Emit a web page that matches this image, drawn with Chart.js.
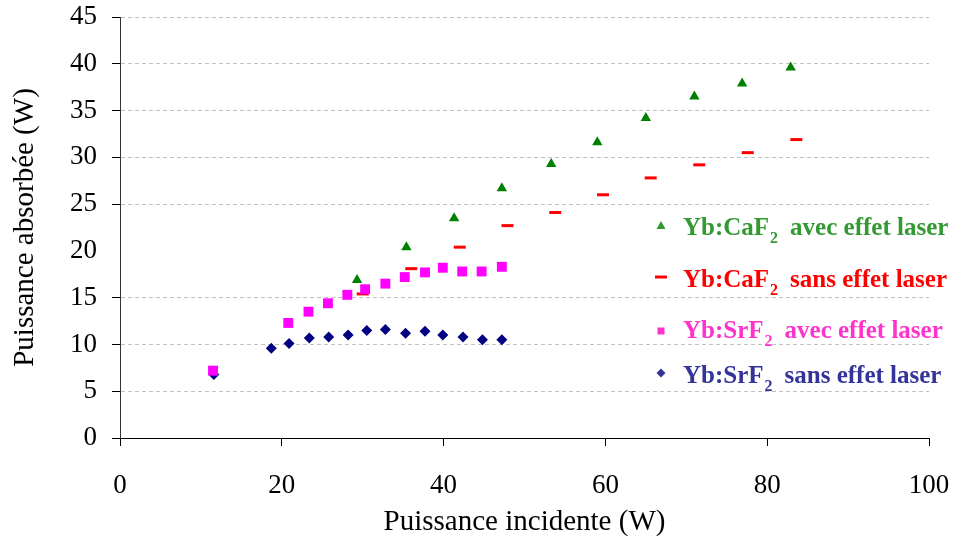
<!DOCTYPE html>
<html>
<head>
<meta charset="utf-8">
<script src="https://cdn.jsdelivr.net/npm/chart.js@4.4.1/dist/chart.umd.min.js"></script>
<style>
  html, body { margin: 0; padding: 0; background: #fff; }
  #wrap { width: 956px; height: 540px; }
</style>
</head>
<body>
<div id="wrap"><canvas id="scatterChart" width="956" height="540"></canvas></div>
<script>
// Yb:CaF2 avec effet laser (triangles)
var caAvecX = [29.3, 35.4, 41.3, 47.2, 53.3, 59.0, 65.0, 71.0, 76.9, 82.9];
var caAvecY = [16.9, 20.4, 23.5, 26.7, 29.3, 31.6, 34.2, 36.5, 37.9, 39.6];
// Yb:CaF2 sans effet laser (dashes)
var caSansX = [30.0, 36.0, 42.0, 47.9, 53.8, 59.7, 65.6, 71.6, 77.6, 83.6];
var caSansY = [15.4, 18.1, 20.4, 22.7, 24.1, 26.0, 27.8, 29.2, 30.5, 31.9];
// Yb:SrF2 avec effet laser (squares)
var srAvecX = [11.5, 20.8, 23.3, 25.7, 28.1, 30.3, 32.8, 35.2, 37.7, 39.9, 42.3, 44.7, 47.2];
var srAvecY = [7.2, 12.3, 13.5, 14.4, 15.3, 15.9, 16.5, 17.2, 17.7, 18.2, 17.8, 17.8, 18.3];
// Yb:SrF2 sans effet laser (diamonds)
var srSansX = [11.6, 18.7, 20.9, 23.4, 25.8, 28.2, 30.5, 32.8, 35.3, 37.7, 39.9, 42.4, 44.8, 47.2];
var srSansY = [6.8, 9.6, 10.1, 10.7, 10.8, 11.0, 11.5, 11.6, 11.2, 11.4, 11.0, 10.8, 10.5, 10.5];

var xTicks = [0, 20, 40, 60, 80, 100];
var yTicks = [0, 5, 10, 15, 20, 25, 30, 35, 40, 45];

var legendCrystal = ['Yb:CaF', 'Yb:CaF', 'Yb:SrF', 'Yb:SrF'];
var legendText = ['avec effet laser', 'sans effet laser', 'avec effet laser', 'sans effet laser'];
var legendColors = ['#339933', '#ff0000', '#ff33cc', '#333399'];
var legendMarks = ['triangle', 'line', 'rect', 'rectRot'];

var serif = '"Liberation Serif", "Times New Roman", serif';

function toPoints(xs, ys) {
    return xs.map(function (x, i) { return { x: x, y: ys[i] }; });
}

// custom legend with subscript "2", drawn inside the plot
var legendPlugin = {
    id: 'subLegend',
    afterDraw: function (chart) {
        var ctx = chart.ctx;
        var rows = [235, 287, 338, 383];
        var markY = [226, 277, 331, 373];
        ctx.save();
        for (var i = 0; i < rows.length; i++) {
            var col = legendColors[i];
            var mx = 661, my = markY[i];
            ctx.fillStyle = col;
            ctx.strokeStyle = col;
            ctx.beginPath();
            if (legendMarks[i] === 'triangle') {
                ctx.moveTo(mx, my - 5); ctx.lineTo(mx + 4.5, my + 3); ctx.lineTo(mx - 4.5, my + 3);
                ctx.closePath(); ctx.fill();
            } else if (legendMarks[i] === 'line') {
                ctx.lineWidth = 3;
                ctx.moveTo(mx - 6, my); ctx.lineTo(mx + 6, my); ctx.stroke();
            } else if (legendMarks[i] === 'rect') {
                ctx.fillRect(mx - 3.5, my - 3.5, 7, 7);
            } else {
                ctx.moveTo(mx, my - 4.5); ctx.lineTo(mx + 4.5, my); ctx.lineTo(mx, my + 4.5); ctx.lineTo(mx - 4.5, my);
                ctx.closePath(); ctx.fill();
            }
            ctx.textBaseline = 'alphabetic';
            ctx.textAlign = 'left';
            ctx.font = 'bold 25px ' + serif;
            var x = 683;
            ctx.fillText(legendCrystal[i], x, rows[i]);
            x += ctx.measureText(legendCrystal[i]).width + 1;
            ctx.font = 'bold 16px ' + serif;
            ctx.fillText('2', x, rows[i] + 8);
            x += ctx.measureText('2').width + 12;
            ctx.font = 'bold 25px ' + serif;
            ctx.fillText(legendText[i], x, rows[i]);
        }
        ctx.restore();
    }
};

window.onload = function () {
    var ctx = document.getElementById('scatterChart').getContext('2d');
    new Chart(ctx, {
        type: 'scatter',
        data: {
            datasets: [{
                label: 'Yb:SrF₂ avec effet laser',
                data: toPoints(srAvecX, srAvecY),
                pointStyle: 'rect',
                pointRadius: 7,
                backgroundColor: '#ff00ff',
                borderColor: '#ff00ff',
                borderWidth: 0
            }, {
                label: 'Yb:CaF₂ avec effet laser',
                data: toPoints(caAvecX, caAvecY),
                pointStyle: 'triangle',
                pointRadius: 6,
                backgroundColor: '#008000',
                borderColor: '#008000',
                borderWidth: 0
            }, {
                label: 'Yb:CaF₂ sans effet laser',
                data: toPoints(caSansX, caSansY),
                pointStyle: 'line',
                pointRadius: 6,
                backgroundColor: '#ff0000',
                borderColor: '#ff0000',
                borderWidth: 3
            }, {
                label: 'Yb:SrF₂ sans effet laser',
                data: toPoints(srSansX, srSansY),
                pointStyle: 'rectRot',
                pointRadius: 5.5,
                backgroundColor: '#000080',
                borderColor: '#000080',
                borderWidth: 0
            }]
        },
        options: {
            responsive: false,
            animation: false,
            devicePixelRatio: 1,
            layout: { padding: { top: 17, right: 27, left: 0, bottom: 0 } },
            plugins: {
                legend: { display: false },
                tooltip: { enabled: false }
            },
            scales: {
                x: {
                    type: 'linear',
                    min: 0, max: 100,
                    afterFit: function (scale) {
                        scale.height = 102;
                        scale.paddingLeft = 0;
                        scale.paddingRight = 0;
                    },
                    afterBuildTicks: function (scale) {
                        scale.ticks = xTicks.map(function (v) { return { value: v }; });
                    },
                    ticks: {
                        color: '#000',
                        font: { family: serif, size: 27 },
                        padding: 24,
                        maxRotation: 0
                    },
                    grid: {
                        drawOnChartArea: false,
                        drawTicks: true,
                        tickLength: 8,
                        tickColor: '#000',
                        tickWidth: 1
                    },
                    border: { display: true, color: '#000', width: 1 },
                    title: {
                        display: true,
                        text: 'Puissance incidente (W)',
                        color: '#000',
                        font: { family: serif, size: 29 },
                        padding: { top: 0, bottom: 0 }
                    }
                },
                y: {
                    type: 'linear',
                    min: 0, max: 45,
                    afterFit: function (scale) {
                        scale.width = 120;
                        scale.paddingTop = 0;
                        scale.paddingBottom = 0;
                    },
                    afterBuildTicks: function (scale) {
                        scale.ticks = yTicks.map(function (v) { return { value: v }; });
                    },
                    ticks: {
                        color: '#000',
                        font: { family: serif, size: 27 },
                        padding: 15
                    },
                    grid: {
                        drawOnChartArea: true,
                        drawTicks: true,
                        tickLength: 8,
                        lineWidth: 1,
                        color: function (c) {
                            if (c.tick && (c.tick.value === 20 || c.tick.value === 0)) return 'rgba(0,0,0,0)';
                            return '#c0c0c0';
                        },
                        tickColor: function (c) {
                            return (c.tick && c.tick.value === 20) ? 'rgba(0,0,0,0)' : '#000';
                        },
                        tickBorderDash: [],
                        tickWidth: 1
                    },
                    border: { display: true, color: '#333', width: 1, dash: [4, 3] },
                    title: {
                        display: true,
                        text: 'Puissance absorbée (W)',
                        color: '#000',
                        font: { family: serif, size: 29 },
                        padding: { top: 8, bottom: 0 }
                    }
                }
            }
        },
        plugins: [legendPlugin]
    });
};
</script>
</body>
</html>
